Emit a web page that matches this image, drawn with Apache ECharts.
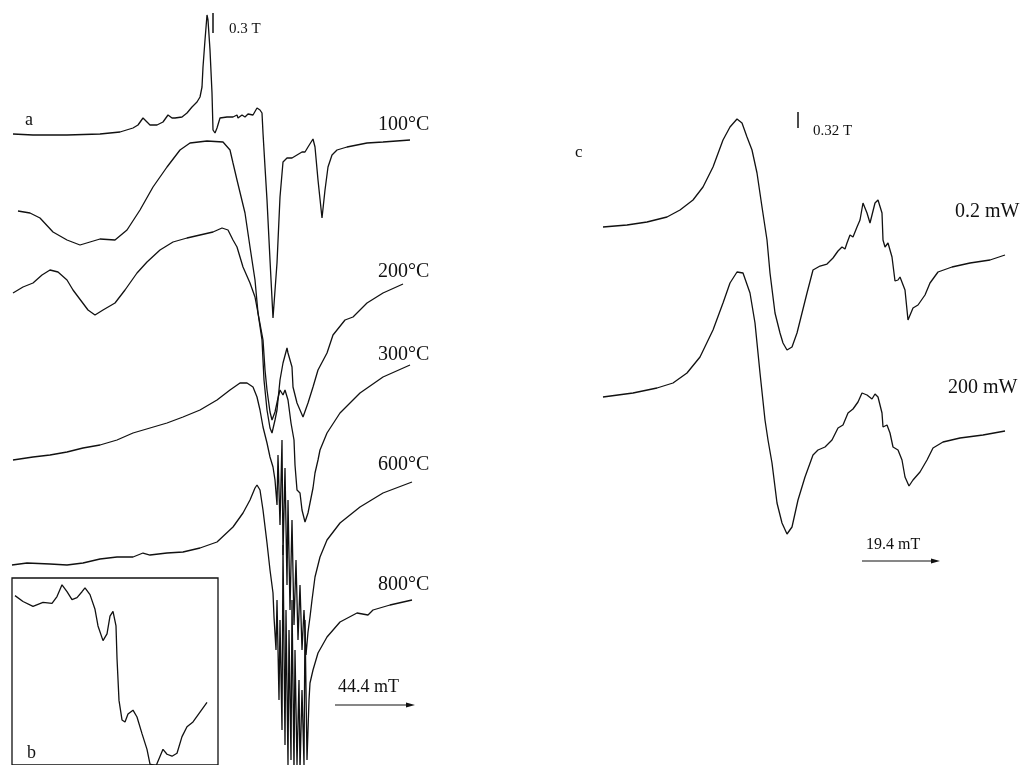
<!DOCTYPE html>
<html>
<head>
<meta charset="utf-8">
<script src="https://cdn.jsdelivr.net/npm/echarts/dist/echarts.min.js"></script>
<style>
  html, body { margin: 0; padding: 0; background: #fff; }
  #chart { width: 1036px; height: 765px; }
</style>
</head>
<body>
<div id="chart"></div>
<script>
// EPR spectra (x = field position, y = signal, page units)
const spec100 = [[13,134],[33,135],[67,135],[100,134],[120,132],[133,128],[138,125],[143,118],[147,122],[150,125],[157,125],[163,122],[168,115],[172,118],[175,118],[182,117],[187,113],[192,107],[197,102],[200,97],[202,87],[203,67],[205,40],[207,15],[208,20],[210,50],[212,93],[213,130],[215,133],[217,128],[220,118],[227,117],[233,117],[237,115],[238,118],[242,115],[245,117],[248,114],[253,115],[257,108],[258,107],[260,110],[262,113],[263,133],[265,167],[267,200],[270,260],[273,318],[277,263],[280,197],[283,162],[287,158],[292,158],[297,155],[302,152],[305,152],[308,147],[313,139],[315,147],[318,180],[322,218],[325,190],[328,167],[332,155],[337,150],[347,147],[367,143],[383,142],[410,140]]
const spec200 = [[18,211],[30,213],[40,218],[53,232],[67,240],[80,245],[90,242],[100,239],[115,240],[127,230],[140,210],[153,187],[167,167],[180,150],[190,143],[207,141],[223,142],[230,150],[233,163],[237,180],[245,213],[250,247],[255,280],[258,313],[262,340],[264,380],[267,410],[270,428],[272,433],[275,420],[277,410],[280,380],[283,363],[287,348],[288,353],[292,367],[293,387],[297,403],[303,417],[308,403],[313,387],[318,370],[327,353],[333,335],[345,320],[353,317],[367,303],[383,293],[403,284]]
const spec300 = [[13,293],[23,287],[33,283],[42,275],[50,270],[58,272],[67,280],[73,290],[82,302],[88,310],[95,315],[103,310],[115,303],[125,290],[137,273],[147,262],[160,250],[173,242],[187,238],[200,235],[213,232],[222,228],[228,230],[233,240],[237,247],[243,267],[250,283],[255,297],[258,313],[263,340],[265,370],[267,390],[270,412],[272,420],[275,412],[278,398],[280,390],[283,395],[285,390],[288,400],[291,423],[294,440],[295,465],[297,490],[300,493],[302,510],[305,522],[308,513],[310,503],[313,488],[315,473],[318,460],[320,450],[327,433],[340,413],[360,393],[383,377],[410,365]]
const spec600 = [[13,460],[33,457],[50,455],[67,452],[83,448],[100,445],[117,440],[133,433],[150,428],[167,423],[183,417],[200,410],[217,400],[230,390],[240,383],[247,383],[253,387],[257,397],[260,410],[263,427],[267,443],[270,457],[273,467],[275,480],[277,505],[278,455],[280,525],[282,440],[283,555],[285,468],[287,585],[288,500],[290,610],[292,520],[294,625],[296,560],[298,640],[300,585],[302,650],[304,610],[306,655],[308,632],[310,617],[312,600],[315,577],[320,557],[327,540],[340,523],[360,507],[383,493],[412,482]]
const spec800 = [[12,565],[27,563],[50,564],[67,565],[83,563],[100,559],[117,557],[133,557],[143,553],[150,555],[167,553],[183,552],[200,548],[217,542],[233,527],[243,513],[250,500],[255,488],[257,485],[260,490],[263,510],[267,543],[270,570],[273,593],[274,617],[276,650],[277,600],[279,700],[280,620],[282,730],[283,545],[285,745],[286,610],[288,765],[289,630],[291,760],[292,600],[294,770],[295,650],[297,765],[299,680],[300,770],[302,690],[304,765],[305,620],[307,760],[309,700],[310,683],[313,670],[318,653],[327,637],[340,622],[357,613],[368,615],[373,610],[390,605],[412,600]]
const insetB = [[15,596],[23,602],[33,607],[38,605],[43,603],[52,604],[57,597],[62,585],[67,592],[72,600],[77,598],[82,592],[85,588],[90,595],[95,610],[98,627],[103,642],[107,635],[110,617],[113,612],[116,627],[117,660],[119,703],[122,723],[125,725],[128,717],[133,713],[137,720],[142,737],[147,753],[150,768],[156,770],[163,753],[167,758],[172,760],[177,757],[182,740],[187,730],[193,725],[200,715],[207,705]]
const spec02mW = [[603,227],[627,225],[647,222],[667,217],[680,210],[693,200],[703,187],[713,167],[723,140],[730,127],[737,119],[742,123],[747,137],[752,150],[757,173],[762,207],[767,240],[770,273],[775,313],[780,333],[783,343],[787,350],[792,347],[797,333],[802,313],[807,293],[813,270],[820,266],[827,264],[833,258],[838,251],[842,247],[845,249],[847,243],[850,235],[853,237],[857,227],[860,220],[863,203],[867,213],[870,223],[875,203],[878,200],[882,213],[883,240],[885,247],[888,243],[892,257],[895,281],[898,280],[900,277],[905,290],[908,320],[913,308],[918,305],[925,295],[930,283],[938,272],[952,267],[970,263],[990,260],[1005,255]]
const spec200mW = [[603,397],[633,393],[657,388],[673,383],[687,373],[700,357],[713,330],[723,303],[730,283],[737,272],[743,273],[750,293],[755,323],[760,373],[765,420],[768,440],[772,463],[777,503],[782,523],[787,534],[792,527],[798,500],[805,477],[813,455],[818,450],[825,447],[832,440],[838,428],[843,425],[848,413],[853,409],[858,402],[862,393],[867,395],[872,399],[875,394],[878,397],[882,413],[883,427],[887,425],[890,433],[893,447],[898,450],[902,460],[905,477],[909,486],[913,480],[920,472],[927,460],[933,448],[943,442],[960,438],[983,435],[1005,431]]

// labels: [text, x, y, size]
const labels = [
  ['a', 25, 120, 18],
  ['0.3 T', 229, 29, 15],
  ['100°C', 378, 125, 20],
  ['200°C', 378, 272, 20],
  ['300°C', 378, 355, 20],
  ['600°C', 378, 465, 20],
  ['800°C', 378, 585, 20],
  ['44.4 mT', 338, 687, 18],
  ['b', 27, 753, 18],
  ['c', 575, 153, 17],
  ['0.32 T', 813, 131, 15],
  ['0.2 mW', 955, 212, 20],
  ['200 mW', 948, 388, 20],
  ['19.4 mT', 866, 545, 16]
]
// field markers (x, y1, y2) and scale arrows (x1, x2, y)
const markers = [[213, 13, 33], [798, 112, 128]]
const arrows = [[335, 415, 705], [862, 940, 561]]

const chart = echarts.init(document.getElementById('chart'))

const ink = '#111'
const mkLine = (name, data, idx) => ({
  name, type: 'line', data, xAxisIndex: idx || 0, yAxisIndex: idx || 0,
  showSymbol: false, symbol: 'none', smooth: false, clip: true,
  lineStyle: { color: ink, width: 1.3 }, silent: true
})

const graphic = []
labels.forEach(([t, x, y, s]) => {
  graphic.push({
    type: 'text', x, y,
    style: { text: t, fill: ink, font: s + 'px "Liberation Serif", serif', textVerticalAlign: 'middle' }
  })
})
markers.forEach(([x, y1, y2]) => {
  graphic.push({ type: 'line', shape: { x1: x, y1, x2: x, y2 }, style: { stroke: ink, lineWidth: 1.5 } })
})
arrows.forEach(([x1, x2, y]) => {
  graphic.push({ type: 'line', shape: { x1, y1: y, x2: x2 - 4, y2: y }, style: { stroke: ink, lineWidth: 1.2 } })
  graphic.push({ type: 'polygon', shape: { points: [[x2, y], [x2 - 9, y - 2.5], [x2 - 9, y + 2.5]] }, style: { fill: ink } })
})

const option = {
  animation: false,
  backgroundColor: '#fff',
  grid: [
    { left: 0, right: 0, top: 0, bottom: 0 },
    // inset b: box runs off the bottom of the page
    { left: 12, top: 578, width: 206, bottom: -4, show: true, borderColor: ink, borderWidth: 1.3, backgroundColor: 'transparent' }
  ],
  xAxis: [
    { type: 'value', min: 0, max: 1036, show: false, gridIndex: 0 },
    { type: 'value', min: 12, max: 218, show: false, gridIndex: 1 }
  ],
  yAxis: [
    { type: 'value', min: 0, max: 765, inverse: true, show: false, gridIndex: 0 },
    { type: 'value', min: 578, max: 769, inverse: true, show: false, gridIndex: 1 }
  ],
  series: [
    mkLine('100°C', spec100),
    mkLine('200°C', spec200),
    mkLine('300°C', spec300),
    mkLine('600°C', spec600),
    mkLine('800°C', spec800),
    mkLine('b', insetB, 1),
    mkLine('0.2 mW', spec02mW),
    mkLine('200 mW', spec200mW)
  ],
  graphic
}

chart.setOption(option)
</script>
</body>
</html>
